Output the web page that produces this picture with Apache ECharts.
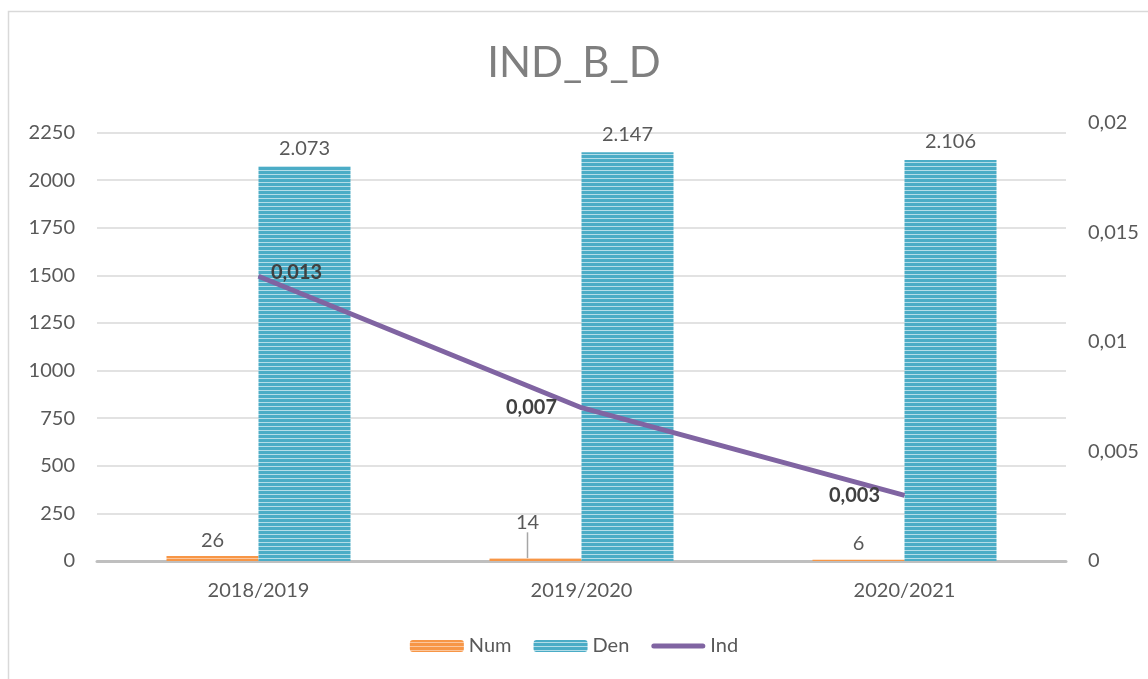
<!DOCTYPE html>
<html>
<head>
<meta charset="utf-8">
<title>IND_B_D</title>
<script src="https://cdn.jsdelivr.net/npm/echarts@6/dist/echarts.min.js"></script>
<style>
    html, body {
        margin: 0;
        padding: 0;
        background: #fff;
    }

    #chart {
        width: 1148px;
        height: 679px;
    }
</style>
</head>
<body>
<div id="chart"></div>
<script>
// data
const years = ['2018/2019', '2019/2020', '2020/2021'];
const numValues = [26, 14, 6];
const denValues = [2073, 2147, 2106];
const indValues = [0.013, 0.007, 0.003];

const leftTicks = {min: 0, max: 2300, interval: 250};
const rightTicks = {min: 0, max: 0.02, interval: 0.005};

const font = 'Lato, "Noto Sans", sans-serif';
const textColor = '#595959';
const fs = 20;

// horizontal stripe fill like the Excel pattern
function stripes(dark, light) {
    const c = document.createElement('canvas');
    c.width = 4;
    c.height = 4;
    const ctx = c.getContext('2d');
    ctx.fillStyle = dark;
    ctx.fillRect(0, 0, 4, 4);
    ctx.fillStyle = light;
    ctx.fillRect(0, 2, 4, 1);
    return {image: c, repeat: 'repeat'};
}

// 2073 -> "2.073", 0.013 -> "0,013"
const thousands = (v) => String(v).replace(/\B(?=(\d{3})+(?!\d))/g, '.');
const comma = (v) => String(v).replace('.', ',');

const indLabelPos = ['right', 'left', 'left'];
const lineIcon = 'path://M2.5,0 L51.5,0 A2.5,2.5 0 0 1 51.5,5 L2.5,5 A2.5,2.5 0 0 1 2.5,0 Z';

const chart = echarts.init(document.getElementById('chart'));
chart.setOption({
    animation: false,
    textStyle: {fontFamily: font},
    title: {
        text: 'IND_B_D',
        left: 'center',
        top: 37,
        textStyle: {
            fontFamily: font,
            fontSize: 42,
            fontWeight: 'normal',
            color: '#7f7f7f',
        },
    },
    graphic: [
        {
            type: 'rect',
            shape: {x: 8.5, y: 11.5, width: 1200, height: 700},
            style: {fill: 'none', stroke: '#d9d9d9', lineWidth: 1.5},
            silent: true,
        },
    ],
    grid: {
        left: 97,
        right: 82,
        top: 123,
        bottom: 118,
    },
    legend: {
        bottom: 18,
        left: 'center',
        itemWidth: 54,
        itemHeight: 12,
        itemGap: 22,
        symbolKeepAspect: true,
        textStyle: {fontFamily: font, fontSize: fs, color: textColor},
        data: ['Num', 'Den', {name: 'Ind', icon: lineIcon}],
    },
    xAxis: {
        type: 'category',
        data: years,
        axisTick: {show: false},
        axisLine: {lineStyle: {color: '#bfbfbf', width: 3}},
        axisLabel: {fontSize: fs, color: textColor, margin: 20},
    },
    yAxis: [
        {
            type: 'value',
            min: leftTicks.min,
            max: leftTicks.max,
            interval: leftTicks.interval,
            axisLine: {show: false},
            axisTick: {show: false},
            axisLabel: {
                fontSize: fs,
                color: textColor,
                margin: 22,
                showMaxLabel: false,
                formatter: (v) => String(v),
            },
            splitLine: {
                showMaxLine: false,
                lineStyle: {color: '#d9d9d9', width: 1.5},
            },
        },
        {
            type: 'value',
            min: rightTicks.min,
            max: rightTicks.max,
            interval: rightTicks.interval,
            axisLine: {show: false},
            axisTick: {show: false},
            splitLine: {show: false},
            axisLabel: {
                fontSize: fs,
                color: textColor,
                margin: 22,
                formatter: (v) => comma(v),
            },
        },
    ],
    series: [
        {
            name: 'Num',
            type: 'bar',
            barWidth: 92,
            barGap: '0%',
            data: numValues.map((v, i) => ({value: v, labelLine: {show: i === 1}})),
            itemStyle: {color: stripes('#f79646', '#fbc79e')},
            label: {
                show: true,
                position: 'top',
                distance: 6,
                fontSize: fs,
                color: textColor,
            },
            labelLine: {
                lineStyle: {color: '#a6a6a6', width: 1.5},
            },
            labelLayout: (p) => (p.dataIndex === 1 ? {dx: -8, dy: -20} : {}),
        },
        {
            name: 'Den',
            type: 'bar',
            barWidth: 92,
            data: denValues,
            itemStyle: {color: stripes('#4bacc6', '#b4dde8')},
            label: {
                show: true,
                position: 'top',
                distance: 8,
                fontSize: fs,
                color: textColor,
                formatter: (p) => thousands(p.value),
            },
        },
        {
            name: 'Ind',
            type: 'line',
            yAxisIndex: 1,
            symbol: 'circle',
            symbolSize: 1,
            data: indValues.map((v, i) => ({
                value: v,
                label: {
                    position: indLabelPos[i],
                    distance: i === 0 ? 12 : 24,
                    offset: i === 0 ? [0, -4] : [0, 0],
                },
            })),
            lineStyle: {color: '#8064a2', width: 5},
            itemStyle: {color: '#8064a2'},
            label: {
                show: true,
                fontSize: fs,
                fontWeight: 'bold',
                color: '#404040',
                formatter: (p) => comma(p.value),
            },
        },
    ],
});
</script>
</body>
</html>
